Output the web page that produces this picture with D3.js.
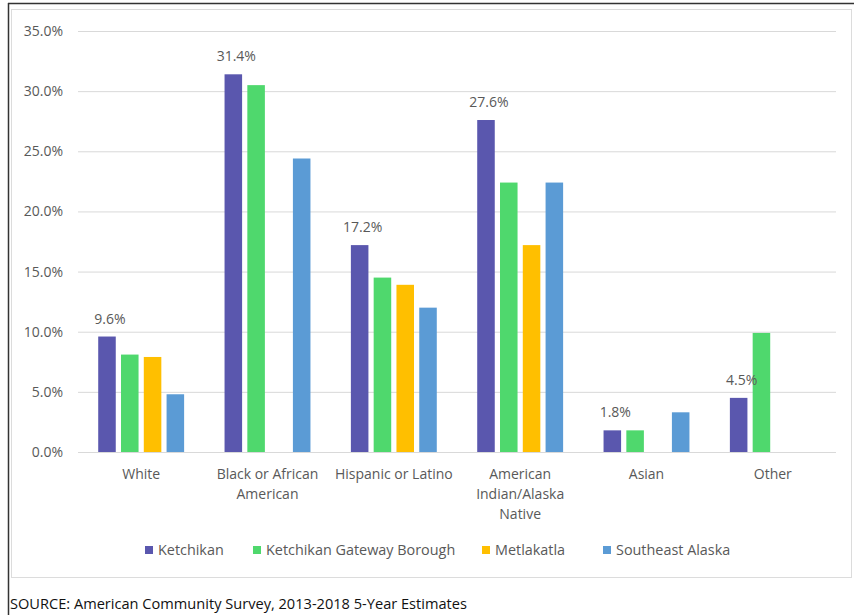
<!DOCTYPE html>
<html>
<head>
<meta charset="utf-8">
<script src="https://cdn.jsdelivr.net/npm/d3@7"></script>
<style>
  html, body { margin: 0; padding: 0; background: #fff; }
  svg { display: block; }
  text { font-family: "Open Sans", "Liberation Sans", sans-serif; }
</style>
</head>
<body>
<svg id="chart" width="854" height="615"></svg>
<script>
// Race / ethnicity shares (%) by area
const categories = [
  ["White"],
  ["Black or African", "American"],
  ["Hispanic or Latino"],
  ["American", "Indian/Alaska", "Native"],
  ["Asian"],
  ["Other"]
];
const seriesNames = ["Ketchikan", "Ketchikan Gateway Borough", "Metlakatla", "Southeast Alaska"];
const ketchikan      = [9.6, 31.4, 17.2, 27.6, 1.8, 4.5];
const gatewayBorough = [8.1, 30.5, 14.5, 22.4, 1.8, 9.9];
const metlakatla     = [7.9, 0,    13.9, 17.2, 0,   0];
const southeast      = [4.8, 24.4, 12.0, 22.4, 3.3, 0];
const yTicks = [0, 5, 10, 15, 20, 25, 30, 35];
const colors = ["#5a57ae", "#4fd86d", "#ffbf00", "#5b9bd5"];
const sourceNote = "SOURCE: American Community Survey, 2013-2018 5-Year Estimates";

const seriesValues = [ketchikan, gatewayBorough, metlakatla, southeast];
const svg = d3.select("#chart");

// Outer frame and chart-area border
svg.append("rect").attr("x", 11.5).attr("y", 9.5).attr("width", 840).attr("height", 568)
  .attr("fill", "#fff").attr("stroke", "#dcdcdc");
svg.append("line").attr("x1", 8).attr("x2", 854).attr("y1", 3.5).attr("y2", 3.5)
  .attr("stroke", "#333").attr("stroke-width", 1.5);
svg.append("line").attr("x1", 8.5).attr("x2", 8.5).attr("y1", 3).attr("y2", 615)
  .attr("stroke", "#333").attr("stroke-width", 1.5);

const catIdx = d3.range(categories.length);
const x0 = d3.scaleBand().domain(catIdx).range([78, 836]).paddingInner(0.32).paddingOuter(0.16);
const x1 = d3.scaleBand().domain(d3.range(seriesNames.length)).range([0, x0.bandwidth()])
  .paddingInner(0.23).paddingOuter(0);
const y = d3.scaleLinear().domain([0, 35]).range([452, 31]);

// Gridlines and y labels
const yAxis = d3.axisLeft(y).tickValues(yTicks).tickSize(-(836 - 78)).tickPadding(15)
  .tickFormat(d => d.toFixed(1) + "%");
const gy = svg.append("g").attr("transform", "translate(78,0)").call(yAxis);
gy.select(".domain").remove();
gy.selectAll(".tick line").attr("stroke", "#d9d9d9");
gy.selectAll(".tick text").attr("fill", "#595959").style("font-size", "14px")
  .style("font-family", "'Open Sans', sans-serif");

// Bars
const groups = svg.append("g").selectAll("g").data(catIdx).join("g")
  .attr("transform", i => `translate(${x0(i)},0)`);
groups.selectAll("rect")
  .data(i => seriesValues.map((vals, s) => ({ s, v: vals[i] })))
  .join("rect")
  .attr("x", d => x1(d.s))
  .attr("width", x1.bandwidth())
  .attr("y", d => y(d.v))
  .attr("height", d => y(0) - y(d.v))
  .attr("fill", d => colors[d.s]);

// Value labels on the Ketchikan series
svg.append("g").selectAll("text").data(catIdx).join("text")
  .attr("x", i => x0(i) + x1(0) + x1.bandwidth() / 2 + 3)
  .attr("y", i => y(ketchikan[i]) - 13)
  .attr("text-anchor", "middle")
  .attr("fill", "#595959")
  .style("font-size", "14px")
  .text(i => ketchikan[i].toFixed(1) + "%");

// Category labels
const xl = svg.append("g").selectAll("text").data(catIdx).join("text")
  .attr("x", i => x0(i) + x0.bandwidth() / 2)
  .attr("y", 479)
  .attr("text-anchor", "middle")
  .attr("fill", "#595959")
  .style("font-size", "14px");
xl.selectAll("tspan").data(i => categories[i].map(t => ({ t, x: x0(i) + x0.bandwidth() / 2 })))
  .join("tspan")
  .attr("x", d => d.x)
  .attr("dy", (d, k) => k === 0 ? 0 : 20)
  .text(d => d.t);

// Legend
const legendX = [145, 253, 482, 603];
const lg = svg.append("g").selectAll("g").data(seriesNames).join("g")
  .attr("transform", (d, k) => `translate(${legendX[k]},550)`);
lg.append("rect").attr("x", 0).attr("y", -4).attr("width", 8).attr("height", 8)
  .attr("fill", (d, k) => colors[k]);
lg.append("text").attr("x", 13).attr("y", 5).attr("fill", "#595959")
  .style("font-size", "14.4px").text(d => d);

// Source note
svg.append("text").attr("x", 10).attr("y", 609).attr("fill", "#111")
  .style("font-size", "14.6px").text(sourceNote);
</script>
</body>
</html>
